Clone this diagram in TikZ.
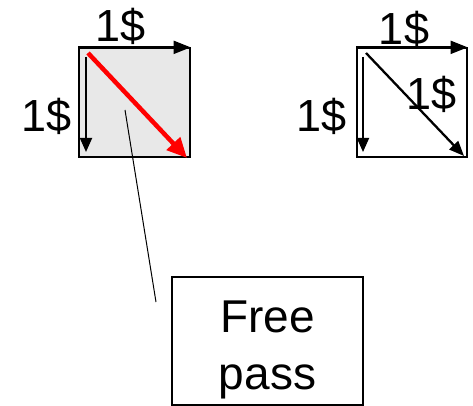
\documentclass[tikz,border=0pt]{standalone}
\usepackage{fontspec}
\setmainfont{Liberation Sans}
\usetikzlibrary{arrows.meta,calc}
\definecolor{boxgray}{HTML}{E8E8E8}
\definecolor{passred}{HTML}{FF0000}
\begin{document}
\begin{tikzpicture}[x=1pt,y=-1pt,
  lbl/.style={inner sep=0pt,anchor=base,font=\fontsize{45}{50}\selectfont},
  sq/.style={draw,line width=1.3pt,minimum width=#1,minimum height=109pt,inner sep=0pt},
  edgearrow/.style={line width=2pt,-{Triangle[length=17pt,width=13pt]}},
  downarrow/.style={line width=1.8pt,-{Triangle[length=14pt,width=12pt]}},
  redarrow/.style={passred,line width=4.5pt,-{Triangle[length=20pt,width=18pt]}},
  diagarrow/.style={line width=2.3pt,-{Triangle[length=15pt,width=12pt]}},
  passbox/.style={draw,line width=1.3pt,minimum width=191pt,minimum height=128pt,inner sep=0pt,align=center,font=\fontsize{46}{57}\selectfont}]
\useasboundingbox (0,0) rectangle (473,406);
% left square
\node[sq=111pt,fill=boxgray] (sqL) at (134.5,102.5) {};
\coordinate (lvS) at (86,57);
\coordinate (lvE) at (86,152);
\coordinate (rdS) at (88,53);
\coordinate (rdE) at (187,158);
\draw[edgearrow] (sqL.north west) -- (sqL.north east);
\draw[downarrow] (lvS) -- (lvE);
\draw[redarrow] (rdS) -- (rdE);
\node[lbl] (tL) at (121,42) {1\$};
\node[lbl] (lL) at (46.5,132) {1\$};
% right square
\node[sq=110pt] (sqR) at (412,102.5) {};
\coordinate (rvS) at (363,57);
\coordinate (rvE) at (363,152);
\coordinate (dgS) at (366,53);
\coordinate (dgE) at (464,156);
\draw[edgearrow] (sqR.north west) -- (sqR.north east);
\draw[downarrow] (rvS) -- (rvE);
\draw[diagarrow] (dgS) -- (dgE);
\node[lbl] (tR) at (404,45) {1\$};
\node[lbl] (lR) at (321.5,132) {1\$};
\node[lbl] (dR) at (431.5,110) {1\$};
% free pass
\node[passbox] (fp) at (267.5,341) {\rule{0pt}{49pt}Free\\pass};
\coordinate (ptA) at (125,110);
\coordinate (ptB) at (156,302);
\draw[line width=1pt] (ptA) -- (ptB);
\end{tikzpicture}
\end{document}
